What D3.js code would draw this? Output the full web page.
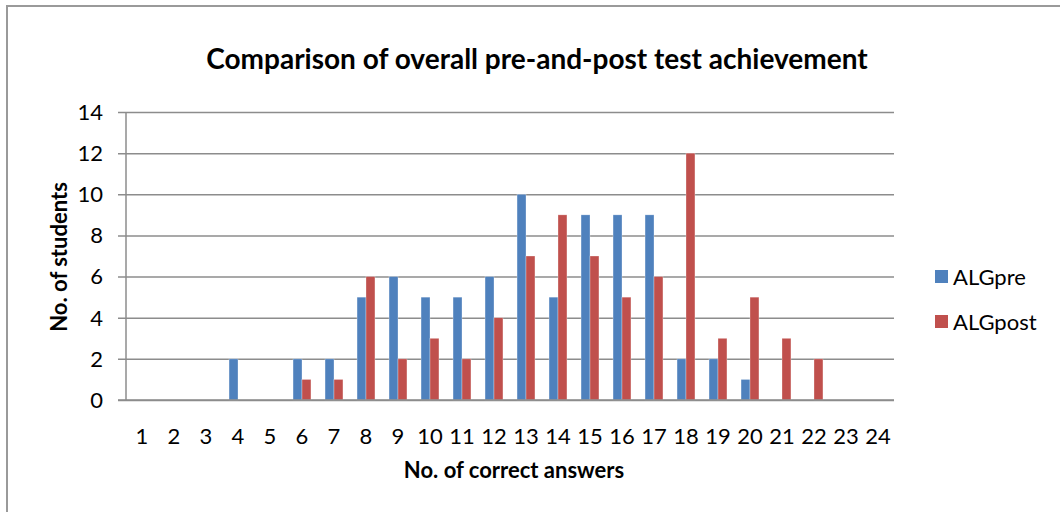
<!DOCTYPE html>
<html>
<head>
<meta charset="utf-8">
<script src="https://cdn.jsdelivr.net/npm/d3@7"></script>
<style>
  body { margin: 0; background: #fff; }
  text { font-family: Lato, 'Open Sans', sans-serif; fill: #000; }
</style>
</head>
<body>
<div id="chart"></div>
<script>
// categories: number of correct answers
var categories = ['1','2','3','4','5','6','7','8','9','10','11','12','13','14','15','16','17','18','19','20','21','22','23','24'];
var seriesNames = ['ALGpre', 'ALGpost'];
var algPre  = [0,0,0,2,0,2,2,5,6,5,5,6,10,5,9,9,9,2,2,1,0,0,0,0];
var algPost = [0,0,0,0,0,1,1,6,2,3,2,4,7,9,7,5,6,12,3,5,3,2,0,0];
var yTicks = [0,2,4,6,8,10,12,14];

var colors = { ALGpre: '#4f81bd', ALGpost: '#c0504d' };

var W = 1060, H = 512;
var margin = { top: 112, right: 166, bottom: 112, left: 126 },
  width = W - margin.left - margin.right,
  height = H - margin.top - margin.bottom;

var root = d3.select('#chart').append('svg')
  .attr('width', W)
  .attr('height', H);

// outer chart frame (only left and top edges are visible)
root.append('path')
  .attr('d', 'M7,' + (H + 5) + 'V6H' + (W + 5))
  .attr('fill', 'none')
  .attr('stroke', '#9a9a9a')
  .attr('stroke-width', 2);

var svg = root.append('g')
  .attr('transform', 'translate(' + margin.left + ',' + margin.top + ')');

var data = categories.map(function (c, i) {
  return { cat: c, ALGpre: algPre[i], ALGpost: algPost[i] };
});

var x0 = d3.scaleBand().domain(categories).range([0, width]);
var x1 = d3.scaleBand().domain(seriesNames)
  .range([x0.bandwidth() * 0.22, x0.bandwidth() * 0.78]);
var y = d3.scaleLinear().domain([0, 14]).range([height, 0]);

// gridlines with tick stubs
svg.append('g')
  .call(d3.axisLeft(y).tickValues(yTicks).tickSize(-width - 8).tickFormat(''))
  .attr('transform', 'translate(-8,0)')
  .call(function (g) {
    g.select('.domain').remove();
    g.selectAll('.tick line').attr('stroke', '#8c8c8c').attr('stroke-width', 1.5)
      .attr('x1', 0).attr('x2', width + 8);
  });

// y labels
svg.append('g')
  .selectAll('text')
  .data(yTicks)
  .enter()
  .append('text')
  .attr('x', -23)
  .attr('y', function (d) { return y(d); })
  .attr('dy', '0.36em')
  .attr('text-anchor', 'end')
  .style('font-size', '22px')
  .text(function (d) { return d; });

// bars
var groups = svg.selectAll('.grp')
  .data(data)
  .enter()
  .append('g')
  .attr('transform', function (d) { return 'translate(' + x0(d.cat) + ',0)'; });

groups.selectAll('rect')
  .data(function (d) {
    return seriesNames.map(function (k) { return { key: k, value: d[k] }; });
  })
  .enter()
  .append('rect')
  .filter(function (d) { return d.value > 0; })
  .attr('x', function (d) { return x1(d.key); })
  .attr('width', x1.bandwidth())
  .attr('y', function (d) { return y(d.value); })
  .attr('height', function (d) { return height - y(d.value); })
  .attr('fill', function (d) { return colors[d.key]; })
  .attr('stroke', '#ffffff')
  .attr('stroke-opacity', 0.5)
  .attr('stroke-width', 0.6);

// axis lines
svg.append('line')
  .attr('x1', 0).attr('x2', 0)
  .attr('y1', 0).attr('y2', height)
  .attr('stroke', '#8c8c8c').attr('stroke-width', 1.5);
svg.append('line')
  .attr('x1', -8).attr('x2', width)
  .attr('y1', height).attr('y2', height)
  .attr('stroke', '#8c8c8c').attr('stroke-width', 1.5);

// x labels
svg.append('g')
  .selectAll('text')
  .data(categories)
  .enter()
  .append('text')
  .attr('x', function (d) { return x0(d) + x0.bandwidth() / 2; })
  .attr('y', height + 44)
  .attr('text-anchor', 'middle')
  .style('font-size', '22px')
  .text(function (d) { return d; });

// title
root.append('text')
  .attr('x', 537)
  .attr('y', 69)
  .attr('text-anchor', 'middle')
  .style('font-size', '28px')
  .style('font-weight', 'bold')
  .text('Comparison  of overall pre-and-post test achievement');

// axis titles
root.append('text')
  .attr('x', 514)
  .attr('y', 478)
  .attr('text-anchor', 'middle')
  .style('font-size', '22px')
  .style('font-weight', 'bold')
  .text('No. of correct answers');

root.append('text')
  .attr('transform', 'translate(67,257) rotate(-90)')
  .attr('text-anchor', 'middle')
  .style('font-size', '22px')
  .style('font-weight', 'bold')
  .text('No. of students');

// legend
var legend = root.append('g')
  .selectAll('g')
  .data(seriesNames)
  .enter()
  .append('g')
  .attr('transform', function (d, i) { return 'translate(935,' + (277 + i * 45) + ')'; });

legend.append('rect')
  .attr('x', 0).attr('y', -7)
  .attr('width', 13).attr('height', 13)
  .attr('fill', function (d) { return colors[d]; });

legend.append('text')
  .attr('x', 18)
  .attr('dy', '0.36em')
  .style('font-size', '22px')
  .text(function (d) { return d; });
</script>
</body>
</html>
